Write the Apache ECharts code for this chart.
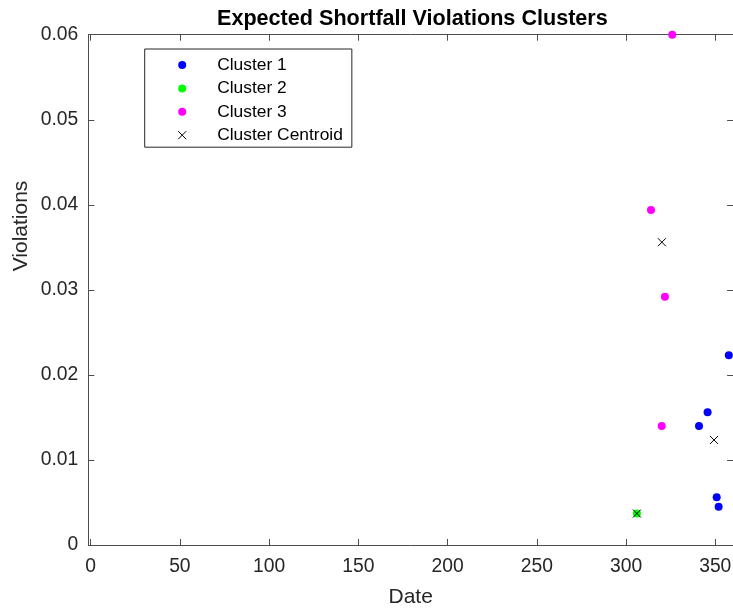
<!DOCTYPE html>
<html>
<head>
<meta charset="utf-8">
<script src="https://cdn.jsdelivr.net/npm/echarts@6/dist/echarts.min.js"></script>
<style>
  html, body { margin: 0; padding: 0; background: #fff; }
  #chart { width: 733px; height: 608px; }
</style>
</head>
<body>
<div id="chart"></div>
<script>
// Day of the year vs. expected-shortfall violation rate, grouped by k-means cluster
const cluster1 = [[357.6, 0.0223], [345.7, 0.0156], [340.9, 0.0140], [350.8, 0.0056], [351.9, 0.0045]];
const cluster2 = [[306.1, 0.0037]];
const cluster3 = [[325.9, 0.0600], [314.0, 0.0394], [321.8, 0.0292], [320.0, 0.0140]];
const centroids = [[349.3, 0.01235], [306.1, 0.0037], [320.1, 0.0356]];

const xTicks = [0, 50, 100, 150, 200, 250, 300, 350];
const yTicks = [0, 0.01, 0.02, 0.03, 0.04, 0.05, 0.06];

const FONT = '"Liberation Sans", Arial, Helvetica, sans-serif';
const AXIS = '#4d4d4d';
const TEXT = '#262626';
const CROSS = 'path://M0,0L10,10M10,0L0,10';

const chart = echarts.init(document.getElementById('chart'), null, { renderer: 'canvas' });

const boxAxis = {
  axisLine: { show: true, onZero: false, lineStyle: { color: AXIS, width: 1 } },
  axisTick: { show: true, inside: true, length: 6, lineStyle: { color: AXIS, width: 1 } },
  splitLine: { show: false }
};

chart.setOption({
  animation: false,
  backgroundColor: '#fff',
  textStyle: { fontFamily: FONT },
  title: {
    text: 'Expected Shortfall Violations Clusters',
    left: 217,
    top: 8,
    padding: 0,
    textStyle: { fontFamily: FONT, fontSize: 21.6, fontWeight: 'bold', color: '#000' }
  },
  grid: {
    left: 88.3, top: 34.7, width: 644.8, height: 510.3,
    outerBoundsMode: 'none'
  },
  legend: {
    orient: 'vertical',
    left: 144.7,
    top: 49,
    padding: [7, 9, 3, 33],
    itemWidth: 60,
    itemHeight: 8,
    itemGap: 5.4,
    backgroundColor: '#fff',
    borderColor: '#262626',
    borderWidth: 1,
    borderRadius: 0,
    selectedMode: false,
    textStyle: { fontFamily: FONT, fontSize: 17.4, color: '#000', lineHeight: 18 },
    data: [
      { name: 'Cluster 1', icon: 'circle' },
      { name: 'Cluster 2', icon: 'circle' },
      { name: 'Cluster 3', icon: 'circle' },
      { name: 'Cluster Centroid', icon: CROSS,
        itemStyle: { color: 'rgba(0,0,0,0)', borderColor: '#000', borderWidth: 1 } }
    ]
  },
  xAxis: [
    Object.assign({}, boxAxis, {
      type: 'value', position: 'bottom', min: -1.3, max: 360,
      name: 'Date', nameLocation: 'middle', nameGap: 41.5,
      nameTextStyle: { fontFamily: FONT, fontSize: 21, color: TEXT },
      axisTick: Object.assign({}, boxAxis.axisTick, { customValues: xTicks }),
      axisLabel: { customValues: xTicks, margin: 12.5, fontFamily: FONT, fontSize: 19.3, color: TEXT }
    }),
    Object.assign({}, boxAxis, {
      type: 'value', position: 'top', min: -1.3, max: 360,
      axisTick: Object.assign({}, boxAxis.axisTick, { customValues: xTicks }),
      axisLabel: { show: false }
    })
  ],
  yAxis: [
    Object.assign({}, boxAxis, {
      type: 'value', position: 'left', min: 0, max: 0.06, interval: 0.01,
      axisLabel: {
        margin: 10, fontFamily: FONT, fontSize: 19.3, color: TEXT,
        formatter: v => String(+v.toFixed(2))
      }
    }),
    Object.assign({}, boxAxis, {
      type: 'value', position: 'right', min: 0, max: 0.06, interval: 0.01,
      axisLabel: { show: false }
    })
  ],
  graphic: [{
    type: 'text',
    x: 21, y: 226,
    rotation: Math.PI / 2,
    style: {
      text: 'Violations',
      font: '21px ' + FONT,
      fill: TEXT,
      align: 'center',
      verticalAlign: 'middle'
    }
  }],
  series: [
    { name: 'Cluster 1', type: 'scatter', data: cluster1, symbol: 'circle', symbolSize: 8,
      clip: false, itemStyle: { color: '#0000ff', opacity: 1 } },
    { name: 'Cluster 2', type: 'scatter', data: cluster2, symbol: 'circle', symbolSize: 8,
      clip: false, itemStyle: { color: '#00ff00', opacity: 1 } },
    { name: 'Cluster 3', type: 'scatter', data: cluster3, symbol: 'circle', symbolSize: 8,
      clip: false, itemStyle: { color: '#ff00ff', opacity: 1 } },
    { name: 'Cluster Centroid', type: 'scatter', data: centroids, symbol: CROSS, symbolSize: 8,
      clip: false, z: 5,
      itemStyle: { color: 'rgba(0,0,0,0)', borderColor: '#000', borderWidth: 1, opacity: 1 } }
  ]
});
</script>
</body>
</html>
